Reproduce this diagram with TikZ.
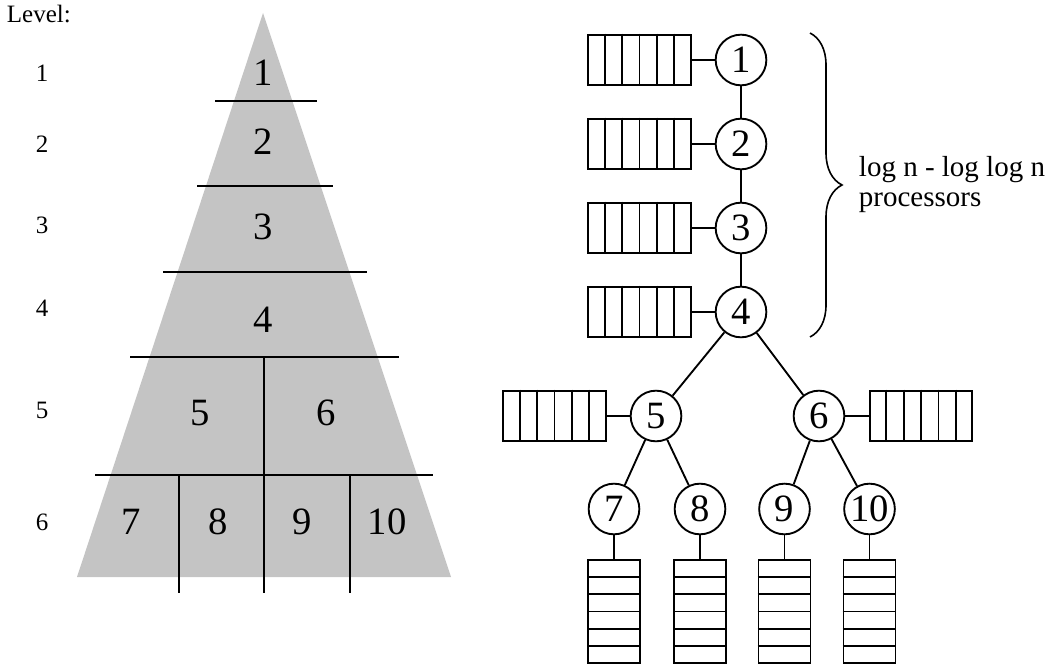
\documentclass[tikz,border=0pt]{standalone}
\usepackage{fontspec}
\setmainfont{Liberation Serif}
\usetikzlibrary{calc,decorations.pathreplacing}
\definecolor{trigray}{RGB}{196,196,196}
\newcommand{\cut}[4]{\draw (#1,#2) -- (#3,#4)}
\newcommand{\hqueue}[2]{\node[hq] (#1) at (#2) {};
	\foreach \k in {1,...,5}
	\draw ($(#1.north west)!\k/6!(#1.north east)$) -- ($(#1.south west)!\k/6!(#1.south east)$)}
\newcommand{\vqueue}[2]{\node[vq] (#1) at (#2) {};
	\foreach \k in {1,...,5}
	\draw ($(#1.north west)!\k/6!(#1.south west)$) -- ($(#1.north east)!\k/6!(#1.south east)$)}

\begin{document}
\begin{tikzpicture}[x=0.75pt, y=-0.75pt, line width=1.4pt,
	proc/.style={circle, draw, minimum size=38pt, inner sep=0pt, font=\fontsize{29}{29}\selectfont},
	hq/.style={draw, minimum width=77pt, minimum height=38pt, inner sep=0pt},
	vq/.style={draw, minimum width=39pt, minimum height=77pt, inner sep=0pt},
	part/.style={font=\fontsize{29}{29}\selectfont},
	lvl/.style={font=\fontsize{18.75}{18.75}\selectfont}]
\useasboundingbox (0,0) rectangle (1063,666);
%Levels
	\node[lvl, anchor=base west, inner sep=0pt] (lvltitle) at (6,23) {Level:};
	\foreach \l/\y in {1/73, 2/144, 3/225, 4/308, 5/410, 6/522}
	\node[lvl] (lvl\l) at (42,\y) {\l};
%The triangle
	\fill[trigray] (263,13) -- (451,577) -- (77,577) -- cycle;
	\cut{215}{101}{317}{101};
	\cut{197}{186}{333}{186};
	\cut{163}{272}{367}{272};
	\cut{130}{357}{399}{357};
	\cut{95}{475}{433}{475};
	\cut{264}{357}{264}{593};
	\cut{179}{475}{179}{593};
	\cut{350}{475}{350}{593};
	\foreach \n/\x/\y in {1/263/73, 2/263/142, 3/263/227, 4/263/320, 5/200/413, 6/326/413,
		7/131/522, 8/218/522, 9/302/522, 10/387/522}
	\node[part] (part\n) at (\x,\y) {\n};
%The processors
	\foreach \n/\x/\y in {1/741/60, 2/741/144, 3/741/228, 4/741/312, 5/656/416, 6/819/416,
		7/614/509, 8/700/509, 9/784.5/509, 10/869.5/509}
	\node[proc] (p\n) at (\x,\y) {\n};
	\draw (p1) -- (p2) -- (p3) -- (p4);
	\draw (p5) -- (p4) -- (p6);
	\draw (p7) -- (p5) -- (p8);
	\draw (p9) -- (p6) -- (p10);
%Their queues
	\hqueue{q1}{639.5,60};
	\hqueue{q2}{639.5,144};
	\hqueue{q3}{639.5,228};
	\hqueue{q4}{639.5,312};
	\hqueue{q5}{554.5,416};
	\hqueue{q6}{921,416};
	\foreach \n in {1,...,6}
	\draw (q\n) -- (p\n);
	\vqueue{q7}{614,611.5};
	\vqueue{q8}{700,611.5};
	\vqueue{q9}{784.5,611.5};
	\vqueue{q10}{869.5,611.5};
	\foreach \n in {7,...,10}
	\draw (p\n) -- (q\n);
%Brace
	\draw[line width=1.2pt, decorate, decoration={brace, amplitude=24pt}] (810,33) -- (810,337);
	\node[anchor=west, inner sep=0pt, align=left, font=\fontsize{21.75}{22.5}\selectfont] (count) at (858,185)
	{log n - log log n\\processors};
\end{tikzpicture}
\end{document}
